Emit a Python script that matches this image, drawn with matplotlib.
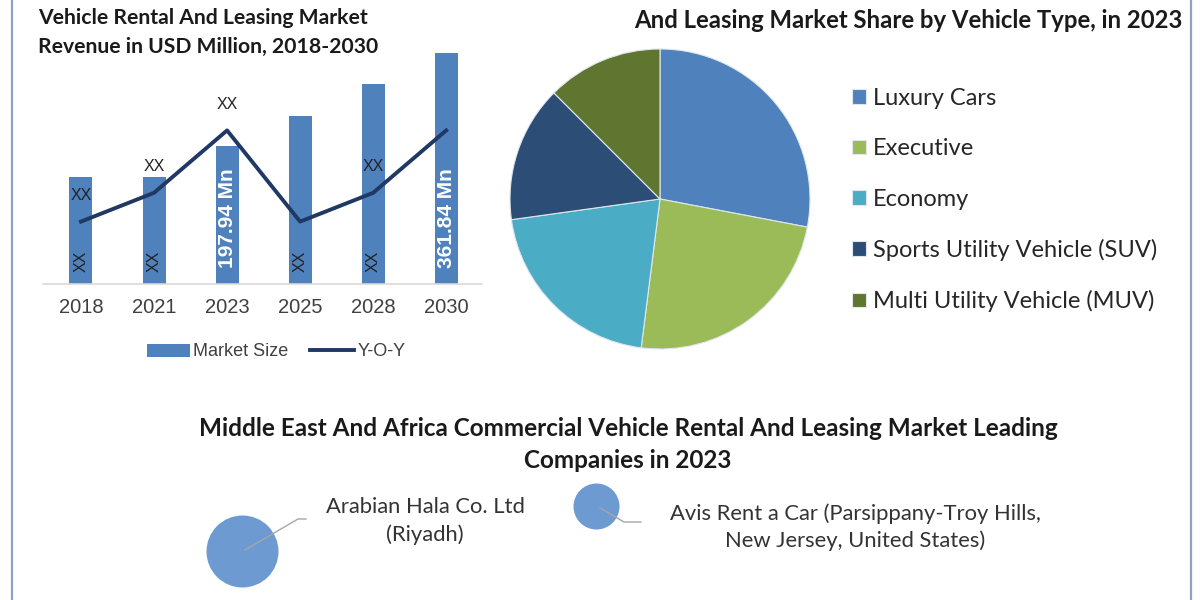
import matplotlib
matplotlib.use('Agg')
import matplotlib.pyplot as plt

# data
years = ['2018', '2021', '2023', '2025', '2028', '2030']
market_size = [168, 168, 216, 263, 313, 362]
bar_labels = ['XX', 'XX', '197.94 Mn', 'XX', 'XX', '361.84 Mn']
yoy = [2.6, 3.8, 6.4, 2.6, 3.8, 6.4]
yoy_labels = ['XX', 'XX', 'XX', '', 'XX', '']

vehicle_types = ['Luxury Cars', 'Executive', 'Economy',
                 'Sports Utility Vehicle (SUV)', 'Multi Utility Vehicle (MUV)']
vehicle_share = [28.0, 24.0, 20.8, 14.7, 12.5]
vehicle_colors = ['#4f81bd', '#9bbb59', '#4bacc6', '#2c4d75', '#5f7530']

companies = ['Arabian Hala Co. Ltd\n(Riyadh)',
             'Avis Rent a Car (Parsippany-Troy Hills,\nNew Jersey, United States)']
company_size = [36, 23]   # bubble radius

W, H = 1200, 600
SANS = 'Lato'
ARIAL = 'Liberation Sans'


def box(l, t, w, h):
    # pixel box (from top-left) -> figure fraction
    return [l / W, 1 - (t + h) / H, w / W, h / H]


fig = plt.figure(figsize=(12, 6), dpi=100)
renderer = fig.canvas.get_renderer()


def fit(txt, width_px):
    bb = txt.get_window_extent(renderer)
    txt.set_fontsize(txt.get_fontsize() * width_px / bb.width)


# ---------- bar + line chart ----------
ax = fig.add_axes(box(43, 44, 439, 240))
x = range(len(years))
bars = ax.bar(x, market_size, width=0.315, color='#4f81bd', label='Market Size')
ax.set_xlim(-0.52, 5.49)
ax.set_ylim(0, 376)
ax.set_xticks(list(x), years)
ax.tick_params(axis='x', length=0, pad=10, labelsize=14.5, labelcolor='#404040')
for lab in ax.get_xticklabels():
    lab.set_family(ARIAL)
ax.set_yticks([])
for s in ['left', 'right', 'top']:
    ax.spines[s].set_visible(False)
ax.spines['bottom'].set_color('#d9d9d9')
ax.spines['bottom'].set_linewidth(1.2)

for i, lab in enumerate(bar_labels):
    big = 'Mn' in lab
    ax.annotate(lab, (i, 0), xytext=(0, 16 if big else 12), textcoords='offset pixels',
                rotation=90, ha='center', va='bottom', family=ARIAL,
                color='white' if big else '#222222', fontsize=15 if big else 11.5,
                fontweight='bold' if big else 'normal')

ax2 = ax.twinx()
ax2.set_ylim(0, 10)
line, = ax2.plot(x, yoy, color='#1f3864', lw=2.8, label='Y-O-Y')
ax2.axis('off')
for i, lab in enumerate(yoy_labels):
    if lab:
        ax2.annotate(lab, (i, yoy[i]), xytext=(0, 26), textcoords='offset pixels',
                     ha='center', va='center', fontsize=11.5, family=ARIAL, color='#222222')

leg = ax.legend([bars, line], ['Market Size', 'Y-O-Y'], loc='center',
                bbox_to_anchor=(276 / W, 1 - 352 / H), bbox_transform=fig.transFigure,
                ncol=2, frameon=False, prop={'family': ARIAL, 'size': 13},
                handlelength=2.4, handletextpad=0.2, columnspacing=1.2)
for t in leg.get_texts():
    t.set_color('#404040')

t1 = fig.text(38 / W, 1 - 18 / H, 'Vehicle Rental And Leasing Market',
              ha='left', va='center', family=SANS, weight='bold', fontsize=14, color='#1a1a1a')
t2 = fig.text(38 / W, 1 - 47 / H, 'Revenue in USD Million, 2018-2030',
              ha='left', va='center', family=SANS, weight='bold', fontsize=14, color='#1a1a1a')
fit(t2, 342)
t1.set_fontsize(t2.get_fontsize())

# ---------- pie ----------
axp = fig.add_axes(box(510, 49, 300, 300))
wedges, _ = axp.pie(vehicle_share, colors=vehicle_colors, startangle=90, counterclock=False,
                    wedgeprops=dict(edgecolor='#dfe6ee', linewidth=0.8))
axp.set_xlim(-1, 1)
axp.set_ylim(-1, 1)
axp.legend(wedges, vehicle_types, loc='upper left',
           bbox_to_anchor=(852 / W, 1 - 88 / H), bbox_transform=fig.transFigure,
           frameon=False, prop={'family': SANS, 'size': 17}, borderpad=0, borderaxespad=0,
           handlelength=0.59, handleheight=0.59, handletextpad=0.3, labelspacing=1.24,
           labelcolor='#262626')

t3 = fig.text(1183 / W, 1 - 20 / H, 'And Leasing Market Share by Vehicle Type, in 2023',
              ha='right', va='center', family=SANS, weight='bold', fontsize=14, color='#1a1a1a')
fit(t3, 551)

# ---------- bottom: leading companies ----------
t4 = fig.text(628 / W, 1 - 428 / H,
              'Middle East And Africa Commercial Vehicle Rental And Leasing Market Leading',
              ha='center', va='center', family=SANS, weight='bold', fontsize=14, color='#1a1a1a')
fit(t4, 862)
fig.text(628 / W, 1 - 460 / H, 'Companies in 2023', ha='center', va='center',
         family=SANS, weight='bold', fontsize=t4.get_fontsize(), color='#1a1a1a')

axb = fig.add_axes([0, 0, 1, 1], zorder=-1)
axb.set_xlim(0, W)
axb.set_ylim(H, 0)
axb.axis('off')

bubble_xy = [(242, 551), (596, 506)]
leaders = [[(245, 550), (298, 519), (306, 519)], [(600, 508), (624, 522), (641, 522)]]
label_xy = [(425, 521), (855, 527)]
for i, name in enumerate(companies):
    bx, by = bubble_xy[i]
    axb.scatter([bx], [by], s=(2 * company_size[i] * 0.72) ** 2, color='#6d9ad0', lw=0)
    lx, ly = zip(*leaders[i])
    axb.plot(lx, ly, color='#a6a6a6', lw=1)
    axb.text(label_xy[i][0], label_xy[i][1], name, ha='center', va='center',
             family=SANS, fontsize=15.8, color='#333333', linespacing=1.4)

# frame lines
axb.plot([11.5, 11.5], [0, H], color='#8ea4c2', lw=1.6)
axb.plot([1191, 1191], [0, H], color='#8ea4c2', lw=1.6)

fig.savefig('out.png', dpi=100)
